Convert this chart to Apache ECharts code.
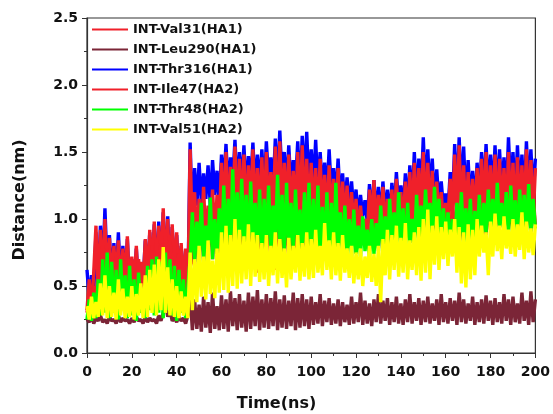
<!DOCTYPE html>
<html><head><meta charset="utf-8">
<script src="https://cdn.jsdelivr.net/npm/echarts@6/dist/echarts.min.js"></script>
<style>html,body{margin:0;padding:0;background:#fff}#c{width:553px;height:414px}</style>
</head><body><div id="c"></div>
<script>
// time axis: one sample per ns, 0..200
const timeStart = 0, timeStep = 1;
const xTicks = [0,20,40,60,80,100,120,140,160,180,200];
const yTicks = [0.0,0.5,1.0,1.5,2.0,2.5];
const legendOrder = ['INT-Val31(HA1)','INT-Leu290(HA1)','INT-Thr316(HA1)','INT-Ile47(HA2)','INT-Thr48(HA2)','INT-Val51(HA2)'];

const val31 = [
0.32,0.55,0.30,0.60,0.95,0.42,0.92,0.48,1.00,0.50,
0.86,0.47,0.80,0.52,0.84,0.45,0.78,0.50,0.87,0.46,
0.72,0.48,0.80,0.44,0.68,0.50,0.85,0.52,0.92,0.55,
0.98,0.50,0.95,0.58,1.08,0.55,1.00,0.52,0.96,0.56,
0.90,0.50,0.82,0.47,0.78,0.45,1.52,0.85,1.20,0.82,
1.15,0.88,1.24,0.80,1.10,0.92,1.22,0.86,1.18,0.95,
1.42,1.00,1.50,0.98,1.39,1.02,1.54,0.97,1.45,1.03,
1.48,0.99,1.40,1.05,1.52,1.00,1.38,1.02,1.46,0.98,
1.50,1.04,1.35,1.00,1.54,0.98,1.58,1.02,1.42,1.05,
1.48,1.00,1.36,1.03,1.50,0.99,1.55,1.04,1.45,1.00,
1.42,1.02,1.38,0.98,1.45,1.00,1.33,0.96,1.40,0.99,
1.30,0.95,1.38,0.92,1.28,0.96,1.25,0.90,1.20,0.93,
1.15,0.88,1.10,0.90,1.00,0.86,1.22,0.92,1.29,0.90,
1.18,0.94,1.24,0.91,1.15,0.95,1.22,0.93,1.30,0.96,
1.20,0.94,1.28,0.97,1.35,0.98,1.42,1.00,1.38,1.02,
1.50,1.00,1.42,1.03,1.36,0.98,1.28,0.97,1.20,0.95,
1.12,1.00,1.30,0.98,1.48,1.02,1.55,1.00,1.40,0.98,
1.35,1.00,1.30,0.97,1.38,1.02,1.45,1.00,1.50,1.03,
1.40,1.01,1.48,0.99,1.45,1.04,1.38,1.00,1.50,1.02,
1.42,0.98,1.46,1.03,1.40,1.00,1.52,1.02,1.44,1.00,
1.38];

const thr316 = [
0.62,0.40,0.58,0.45,0.90,0.50,0.95,0.60,1.08,0.62,
0.88,0.55,0.82,0.55,0.90,0.52,0.80,0.55,0.85,0.50,
0.70,0.50,0.78,0.50,0.66,0.52,0.84,0.55,0.90,0.58,
0.96,0.55,0.98,0.60,1.05,0.58,1.02,0.55,0.94,0.58,
0.88,0.52,0.80,0.50,0.76,0.48,1.57,1.00,1.38,1.10,
1.42,1.12,1.34,1.15,1.40,1.10,1.44,1.18,1.36,1.12,
1.48,1.25,1.56,1.20,1.46,1.28,1.59,1.22,1.50,1.25,
1.55,1.20,1.47,1.26,1.57,1.22,1.48,1.25,1.52,1.20,
1.58,1.28,1.46,1.22,1.60,1.25,1.66,1.30,1.50,1.24,
1.55,1.22,1.44,1.26,1.58,1.20,1.62,1.28,1.65,1.25,
1.52,1.25,1.59,1.20,1.50,1.22,1.42,1.18,1.52,1.20,
1.38,1.15,1.45,1.12,1.34,1.10,1.31,1.08,1.28,1.05,
1.22,1.00,1.18,1.02,1.14,0.98,1.26,1.00,1.29,1.02,
1.24,1.00,1.28,1.02,1.22,1.00,1.27,1.05,1.35,1.08,
1.25,1.05,1.34,1.08,1.40,1.10,1.50,1.15,1.45,1.18,
1.61,1.20,1.52,1.18,1.45,1.12,1.37,1.10,1.28,1.08,
1.19,1.05,1.35,1.10,1.56,1.15,1.61,1.18,1.54,1.12,
1.44,1.12,1.36,1.10,1.42,1.15,1.50,1.18,1.56,1.20,
1.48,1.18,1.55,1.16,1.52,1.20,1.46,1.15,1.61,1.22,
1.50,1.15,1.55,1.18,1.48,1.14,1.58,1.20,1.52,1.16,
1.45];

const ile47 = [
0.30,0.45,0.28,0.50,0.40,0.62,0.45,0.80,0.50,0.78,
0.48,0.70,0.50,0.75,0.46,0.68,0.52,0.72,0.48,0.66,
0.45,0.62,0.50,0.70,0.48,0.58,0.52,0.76,0.55,0.80,
0.50,0.85,0.55,0.82,0.52,0.88,0.56,0.84,0.50,0.80,
0.52,0.74,0.48,0.70,0.45,0.66,0.95,0.70,0.65,1.00,
0.72,1.05,0.68,0.98,0.75,1.08,0.70,1.02,0.74,1.10,
0.62,1.15,0.70,1.12,0.60,1.20,0.72,1.10,0.65,1.18,
0.75,1.12,0.64,1.20,0.72,1.15,0.60,1.18,0.70,1.10,
0.66,1.15,0.74,1.22,0.62,1.12,0.70,1.20,0.68,1.15,
0.72,1.18,0.65,1.10,0.74,1.20,0.70,1.15,0.76,1.12,
0.72,1.15,0.78,1.10,0.70,1.18,0.76,1.08,0.72,1.12,
0.78,1.05,0.74,1.10,0.80,1.02,0.76,1.00,0.80,0.98,
0.74,0.95,0.80,1.00,0.82,0.92,0.76,1.05,0.80,1.00,
0.78,1.08,0.82,1.02,0.76,1.10,0.80,1.05,0.84,1.12,
0.80,1.05,0.85,1.12,0.82,1.15,0.86,1.10,0.84,1.18,
0.88,1.15,0.92,1.10,0.86,1.12,0.90,1.05,0.85,1.08,
0.82,1.00,0.86,1.10,0.80,1.15,0.78,1.08,0.84,1.12,
0.88,1.10,0.84,1.15,0.90,1.12,0.92,1.18,0.88,1.15,
0.92,1.20,0.88,1.15,0.94,1.18,0.90,1.22,0.92,1.15,
0.90,1.18,0.94,1.20,0.88,1.15,0.92,1.22,0.90,1.18,
0.95];

const leu290 = [
0.25,0.23,0.27,0.22,0.26,0.24,0.28,0.23,0.25,0.22,
0.27,0.24,0.25,0.22,0.28,0.23,0.26,0.24,0.25,0.22,
0.26,0.23,0.27,0.24,0.25,0.22,0.27,0.23,0.26,0.24,
0.25,0.22,0.28,0.24,0.30,0.38,0.27,0.32,0.24,0.26,
0.23,0.27,0.24,0.26,0.22,0.28,0.44,0.17,0.40,0.18,
0.36,0.16,0.42,0.19,0.38,0.15,0.45,0.18,0.35,0.17,
0.43,0.18,0.40,0.16,0.46,0.20,0.41,0.17,0.44,0.19,
0.39,0.16,0.45,0.18,0.42,0.20,0.47,0.17,0.40,0.19,
0.44,0.18,0.41,0.20,0.46,0.17,0.40,0.19,0.43,0.18,
0.39,0.20,0.45,0.17,0.41,0.19,0.44,0.20,0.40,0.18,
0.42,0.21,0.38,0.22,0.44,0.20,0.39,0.23,0.41,0.21,
0.37,0.22,0.40,0.20,0.38,0.23,0.36,0.21,0.42,0.22,
0.38,0.23,0.45,0.21,0.39,0.22,0.37,0.20,0.40,0.23,
0.44,0.22,0.39,0.24,0.41,0.21,0.38,0.23,0.42,0.22,
0.37,0.21,0.40,0.23,0.44,0.22,0.38,0.24,0.41,0.21,
0.39,0.23,0.42,0.22,0.37,0.24,0.40,0.21,0.44,0.23,
0.38,0.22,0.41,0.24,0.39,0.21,0.45,0.23,0.40,0.22,
0.37,0.24,0.42,0.21,0.38,0.23,0.40,0.22,0.43,0.24,
0.39,0.21,0.41,0.23,0.38,0.22,0.44,0.24,0.40,0.21,
0.42,0.23,0.37,0.22,0.45,0.24,0.39,0.21,0.46,0.23,
0.40];

const thr48 = [
0.25,0.40,0.24,0.45,0.26,0.55,0.28,0.70,0.30,0.75,
0.26,0.68,0.30,0.62,0.25,0.70,0.32,0.58,0.26,0.65,
0.28,0.55,0.24,0.60,0.30,0.48,0.26,0.65,0.32,0.70,
0.28,0.72,0.30,0.68,0.26,0.75,0.32,0.70,0.28,0.65,
0.24,0.62,0.30,0.55,0.26,0.50,0.70,1.05,0.68,0.98,
0.72,1.12,0.67,0.95,0.75,1.16,0.70,1.00,0.74,1.08,
0.76,1.25,0.80,1.15,0.75,1.37,0.82,1.20,0.77,1.30,
0.80,1.18,0.76,1.28,0.82,1.12,0.78,1.22,0.75,1.15,
0.80,1.25,0.76,1.10,0.82,1.33,0.78,1.18,0.74,1.27,
0.79,1.12,0.76,1.22,0.80,1.07,0.75,1.20,0.78,1.27,
0.72,1.15,0.79,1.25,0.70,1.09,0.76,1.20,0.69,1.12,
0.74,1.27,0.78,1.05,0.72,1.10,0.75,1.00,0.71,1.07,
0.74,0.95,0.72,1.02,0.76,0.92,0.71,1.00,0.74,0.97,
0.76,1.10,0.78,1.02,0.75,1.15,0.80,1.05,0.76,1.20,
0.79,1.08,0.75,1.12,0.82,1.00,0.78,1.18,0.84,1.10,
0.88,1.22,0.93,1.12,0.85,1.24,0.90,1.15,0.84,1.08,
0.78,1.05,0.80,1.00,0.76,1.12,0.84,1.20,0.80,1.08,
0.82,1.15,0.78,1.06,0.84,1.18,0.80,1.12,0.90,1.22,
0.92,1.15,0.88,1.27,0.93,1.12,0.90,1.20,0.88,1.25,
0.92,1.14,0.89,1.22,0.93,1.18,0.90,1.26,0.91,1.15,
0.93];

const val51 = [
0.35,0.25,0.42,0.26,0.38,0.27,0.52,0.28,0.58,0.26,
0.50,0.27,0.45,0.25,0.55,0.28,0.48,0.26,0.42,0.27,
0.50,0.25,0.44,0.28,0.52,0.26,0.58,0.27,0.62,0.30,
0.66,0.28,0.70,0.32,0.79,0.30,0.64,0.28,0.55,0.27,
0.50,0.26,0.46,0.28,0.42,0.26,0.75,0.32,0.70,0.38,
0.80,0.42,0.72,0.40,0.84,0.44,0.69,0.41,0.78,0.45,
0.90,0.47,0.95,0.45,0.88,0.50,1.00,0.48,0.92,0.52,
0.87,0.55,0.96,0.50,0.90,0.57,0.88,0.53,0.82,0.55,
0.88,0.50,0.80,0.58,0.90,0.52,0.85,0.56,0.78,0.49,
0.86,0.55,0.80,0.60,0.88,0.54,0.82,0.57,0.90,0.55,
0.85,0.56,0.92,0.60,0.80,0.58,0.97,0.62,0.84,0.55,
0.90,0.58,0.82,0.54,0.88,0.60,0.78,0.56,0.80,0.52,
0.75,0.55,0.78,0.50,0.72,0.56,0.80,0.53,0.74,0.50,
0.80,0.38,0.85,0.58,0.92,0.55,0.88,0.62,0.95,0.57,
0.86,0.60,0.97,0.55,0.84,0.62,0.90,0.58,0.94,0.54,
1.00,0.60,1.07,0.55,0.95,0.66,1.02,0.62,0.94,0.70,
0.98,0.65,0.92,0.72,1.00,0.60,0.94,0.52,0.90,0.49,
0.96,0.55,0.92,0.58,1.00,0.72,0.95,0.75,0.90,0.58,
0.98,0.72,1.04,0.76,0.95,0.70,1.02,0.78,0.92,0.74,
1.00,0.72,0.96,0.77,1.05,0.70,0.98,0.75,0.93,0.73,
0.96];

const colors = {
  'INT-Val31(HA1)':'#F0202A','INT-Leu290(HA1)':'#7B2537','INT-Thr316(HA1)':'#0000FF',
  'INT-Ile47(HA2)':'#F0202A','INT-Thr48(HA2)':'#00FF00','INT-Val51(HA2)':'#FFFF00'
};
// drawing order (bottom to top)
const drawOrder = [
  ['INT-Thr316(HA1)', thr316],
  ['INT-Val31(HA1)', val31],
  ['INT-Ile47(HA2)', ile47],
  ['INT-Leu290(HA1)', leu290],
  ['INT-Thr48(HA2)', thr48],
  ['INT-Val51(HA2)', val51]
];
const toPairs = arr => arr.map((v,i)=>[timeStart + i*timeStep, v]);

const FONT = 'DejaVu Sans';
const chart = echarts.init(document.getElementById('c'), null, {renderer:'canvas'});
chart.setOption({
  animation:false,
  backgroundColor:'#fff',
  grid:{left:87,right:15,top:18,bottom:61,show:true,borderColor:'#333',borderWidth:1.2,backgroundColor:'transparent',containLabel:false},
  legend:{
    data:legendOrder, orient:'vertical', left:87, top:17, itemWidth:36, itemHeight:2, itemGap:5,
    icon:'rect', textStyle:{fontFamily:FONT,fontWeight:'bold',fontSize:13,color:'#111',lineHeight:15,padding:[0,0,0,0]}
  },
  xAxis:{
    type:'value', min:xTicks[0], max:xTicks[xTicks.length-1], interval:20,
    axisLine:{show:true,lineStyle:{color:'#333',width:1.2}},
    axisTick:{show:true,inside:false,length:5,lineStyle:{color:'#333'}},
    minorTick:{show:true,splitNumber:2,length:3,lineStyle:{color:'#333'}},
    splitLine:{show:false},
    axisLabel:{fontFamily:FONT,fontWeight:'bold',fontSize:14,color:'#111',margin:12}
  },
  yAxis:{
    type:'value', min:yTicks[0], max:yTicks[yTicks.length-1], interval:0.5,
    axisLine:{show:true,lineStyle:{color:'#333',width:1.2}},
    axisTick:{show:true,inside:false,length:5,lineStyle:{color:'#333'}},
    minorTick:{show:true,splitNumber:2,length:3,lineStyle:{color:'#333'}},
    splitLine:{show:false},
    axisLabel:{fontFamily:FONT,fontWeight:'bold',fontSize:14,color:'#111',margin:9,formatter:v=>v.toFixed(1)}
  },
  graphic:[
    {type:'text',left:'center',top:396,style:{text:'Time(ns)',fontFamily:FONT,fontWeight:'bold',fontSize:16,fill:'#111'}},
    {type:'text',x:12,y:200,rotation:Math.PI/2,style:{text:'Distance(nm)',fontFamily:FONT,fontWeight:'bold',fontSize:16,fill:'#111',align:'center',verticalAlign:'top'}}
  ],
  series: drawOrder.map(([name,arr])=>({
    name, type:'line', data:toPairs(arr), showSymbol:false, symbol:'none',
    lineStyle:{color:colors[name],width:3.4,join:'bevel'}, itemStyle:{color:colors[name]},
    emphasis:{disabled:true}, silent:true, clip:true
  }))
});
</script></body></html>
